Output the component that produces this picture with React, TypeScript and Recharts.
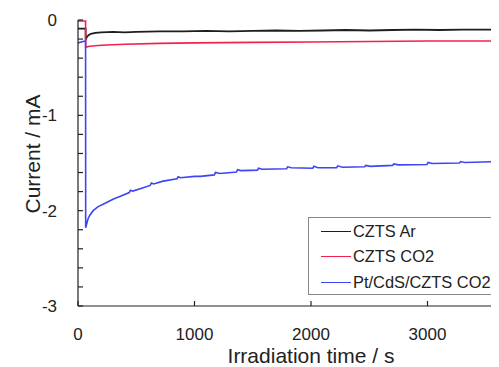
import React from 'react';
import { LineChart, Line, XAxis, YAxis } from 'recharts';

const seriesNames = ['CZTS Ar', 'CZTS CO2', 'Pt/CdS/CZTS CO2'];
const seriesColors = ['#1e1e1e', '#f5204c', '#3c46f2'];

const arTime = [0, 65, 66, 75, 90, 110, 150, 200, 300, 400, 500, 700, 900, 1100, 1300, 1500, 1700, 1900, 2100, 2300, 2500, 2700, 2900, 3100, 3300, 3500, 3700, 4000];
const arCurrent = [-0.09, -0.09, -0.21, -0.18, -0.16, -0.145, -0.135, -0.13, -0.125, -0.13, -0.125, -0.12, -0.12, -0.115, -0.12, -0.115, -0.11, -0.115, -0.11, -0.105, -0.11, -0.105, -0.1, -0.105, -0.1, -0.1, -0.1, -0.095];

const co2Time = [0, 65, 66, 100, 200, 400, 700, 1000, 1500, 2000, 2500, 3000, 3500, 4000];
const co2Current = [-0.01, -0.01, -0.285, -0.275, -0.265, -0.255, -0.245, -0.24, -0.235, -0.23, -0.225, -0.22, -0.22, -0.215];

const ptTime = [0, 60, 65, 66, 72, 85, 100, 130, 170, 220, 300, 380, 440, 450, 470, 560, 620, 630, 650, 730, 850, 860, 880, 1000, 1050, 1170, 1180, 1220, 1360, 1370, 1400, 1540, 1550, 1580, 1790, 1800, 1830, 2015, 2025, 2060, 2220, 2230, 2270, 2460, 2470, 2510, 2700, 2710, 2750, 2995, 3005, 3040, 3275, 3285, 3320, 3600, 4000];
const ptCurrent = [-0.24, -0.22, -0.22, -2.18, -2.15, -2.09, -2.05, -2.0, -1.96, -1.93, -1.88, -1.84, -1.81, -1.785, -1.795, -1.76, -1.735, -1.71, -1.72, -1.69, -1.665, -1.645, -1.655, -1.64, -1.64, -1.625, -1.6, -1.61, -1.595, -1.57, -1.58, -1.575, -1.555, -1.565, -1.56, -1.54, -1.55, -1.555, -1.535, -1.55, -1.55, -1.53, -1.545, -1.54, -1.525, -1.535, -1.525, -1.51, -1.52, -1.515, -1.495, -1.505, -1.5, -1.485, -1.495, -1.485, -1.47];

const xTicks = [0, 1000, 2000, 3000];
const yTicks = [0, -0.2, -0.4, -0.6, -0.8, -1, -1.2, -1.4, -1.6, -1.8, -2, -2.2, -2.4, -2.6, -2.8, -3];
const yLabelTicks = [0, -1, -2, -3];

const toRows = (t: number[], v: number[]) => t.map((x, i) => ({ t: x, v: v[i] }));
const arData = toRows(arTime, arCurrent);
const co2Data = toRows(co2Time, co2Current);
const ptData = toRows(ptTime, ptCurrent);

const FONT = '"Liberation Sans", Arial, sans-serif';
const AXIS_X = 70;
const AXIS_Y = 298;

const YTick = (props: any) => {
  const { y, payload } = props;
  const val = payload.value;
  const isMajor = yLabelTicks.some((m) => Math.abs(m - val) < 1e-6);
  return (
    <g>
      <line x1={AXIS_X} x2={AXIS_X + 5} y1={y} y2={y} stroke="#222" strokeWidth={1.2} />
      {isMajor && (
        <text x={AXIS_X - 21} y={y} dy="0.36em" textAnchor="end" fontSize={17} fontFamily={FONT} fill="#222">
          {String(Math.round(val))}
        </text>
      )}
    </g>
  );
};

const XTick = (props: any) => {
  const { x, payload } = props;
  return (
    <g>
      <line x1={x} x2={x} y1={AXIS_Y} y2={AXIS_Y - 5} stroke="#222" strokeWidth={1.2} />
      <text x={x} y={AXIS_Y + 34} textAnchor="middle" fontSize={17} fontFamily={FONT} fill="#222">
        {String(payload.value)}
      </text>
    </g>
  );
};

export default function App() {
  return (
    <div style={{ position: 'relative', width: 491, height: 359, overflow: 'hidden' }}>
      <LineChart width={540} height={359} margin={{ top: 12, right: 4, left: 0, bottom: 0 }}>
        <XAxis
          dataKey="t"
          type="number"
          domain={[0, 4000]}
          ticks={xTicks}
          interval={0}
          tick={<XTick />}
          tickLine={false}
          axisLine={{ stroke: '#222', strokeWidth: 1.2 }}
          height={61}
          allowDataOverflow
          label={{
            content: () => (
              <text x={303} y={355} textAnchor="middle" fontSize={21} fontFamily={FONT} fill="#222">
                Irradiation time / s
              </text>
            ),
          }}
        />
        <XAxis xAxisId="top" orientation="top" dataKey="t" type="number" domain={[0, 4000]} tick={false} tickLine={false} height={0} axisLine={{ stroke: '#222', strokeWidth: 1.2 }} />
        <YAxis
          type="number"
          domain={[-3, 0]}
          ticks={yTicks}
          interval={0}
          tick={<YTick />}
          tickLine={false}
          width={AXIS_X}
          allowDataOverflow
          axisLine={{ stroke: '#222', strokeWidth: 1.2 }}
          label={{
            content: () => (
              <text x={0} y={0} transform="translate(32,146) rotate(-90)" textAnchor="middle" fontSize={21} fontFamily={FONT} fill="#222">
                Current / mA
              </text>
            ),
          }}
        />
        <Line data={arData} dataKey="v" name={seriesNames[0]} stroke={seriesColors[0]} strokeWidth={1.8} dot={false} isAnimationActive={false} type="linear" />
        <Line data={co2Data} dataKey="v" name={seriesNames[1]} stroke={seriesColors[1]} strokeWidth={1.6} dot={false} isAnimationActive={false} type="linear" />
        <Line data={ptData} dataKey="v" name={seriesNames[2]} stroke={seriesColors[2]} strokeWidth={1.6} dot={false} isAnimationActive={false} type="linear" />
      </LineChart>
      <div
        style={{
          position: 'absolute',
          left: 300,
          top: 209,
          width: 198,
          height: 78,
          border: '1px solid #888',
          background: '#fff',
          boxSizing: 'border-box',
          fontFamily: FONT,
          fontSize: 16.4,
          color: '#222',
        }}
      >
        {seriesNames.map((n, i) => (
          <div key={n} style={{ position: 'absolute', left: 12, top: 2 + i * 25.5, height: 22, display: 'flex', alignItems: 'center', whiteSpace: 'nowrap' }}>
            <span style={{ display: 'inline-block', width: 30, height: 0, borderTop: `1.6px solid ${seriesColors[i]}`, marginRight: 2 }} />
            <span>{n}</span>
          </div>
        ))}
      </div>
    </div>
  );
}
